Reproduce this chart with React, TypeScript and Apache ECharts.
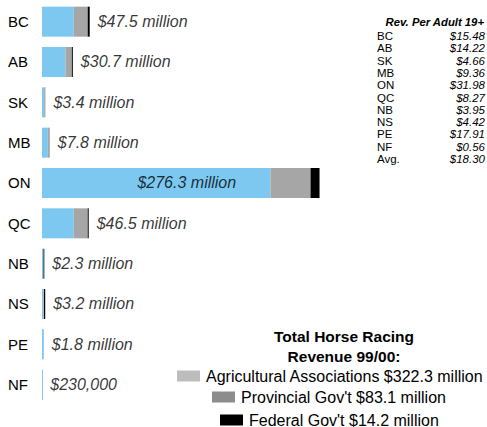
import React, { useEffect, useRef } from "react";
import * as echarts from "echarts";

const categories = ["BC", "AB", "SK", "MB", "ON", "QC", "NB", "NS", "PE", "NF"];
const agricultural = [31.6, 23.3, 2.1, 5.8, 227.4, 31.6, 1.5, 1.3, 1.8, 0.23];
const provincial = [13.9, 6.4, 1.3, 2.0, 39.9, 13.9, 0, 0.7, 0, 0];
const federal = [2.0, 1.0, 0, 0, 9.0, 1.0, 0.8, 1.2, 0, 0];
const totals = [47.5, 30.7, 3.4, 7.8, 276.3, 46.5, 2.3, 3.2, 1.8, 0.23];
const totalLabels = [
  "$47.5 million",
  "$30.7 million",
  "$3.4 million",
  "$7.8 million",
  "$276.3 million",
  "$46.5 million",
  "$2.3 million",
  "$3.2 million",
  "$1.8 million",
  "$230,000",
];
const insideLabelIndex = 4;

const perAdultTitle = "Rev. Per Adult 19+";
const perAdultNames = ["BC", "AB", "SK", "MB", "ON", "QC", "NB", "NS", "PE", "NF", "Avg."];
const perAdultValues = ["$15.48", "$14.22", "$4.66", "$9.36", "$31.98", "$8.27", "$3.95", "$4.42", "$17.91", "$0.56", "$18.30"];

const legendTitle = ["Total Horse Racing", "Revenue 99/00:"];
const legendItems = [
  "Agricultural Associations $322.3 million",
  "Provincial Gov't $83.1 million",
  "Federal Gov't $14.2 million",
];

const FONT = "'Liberation Sans', Arial, sans-serif";

export default function App() {
  const ref = useRef<HTMLDivElement>(null);
  useEffect(() => {
    if (!ref.current) return;
    const chart = echarts.init(ref.current, null, { renderer: "svg" });

    const graphics: any[] = [];
    graphics.push({
      type: "text",
      x: 484,
      y: 22,
      style: {
        text: perAdultTitle,
        fontSize: 11.3,
        lineHeight: 12,
        fontStyle: "italic",
        fontWeight: "bold",
        fontFamily: FONT,
        fill: "#000",
        align: "right",
        verticalAlign: "middle",
      },
    });
    perAdultNames.forEach((n, i) => {
      const y = 36 + i * 12.3;
      graphics.push({
        type: "text",
        x: 377,
        y,
        style: {
          text: n,
          fontSize: 11.5,
          lineHeight: 12,
          fontFamily: FONT,
          fill: "#000",
          verticalAlign: "middle",
          align: "left",
        },
      });
      graphics.push({
        type: "text",
        x: 485,
        y,
        style: {
          text: perAdultValues[i],
          fontSize: 11.5,
          lineHeight: 12,
          fontStyle: "italic",
          fontFamily: FONT,
          fill: "#000",
          verticalAlign: "middle",
          align: "right",
        },
      });
    });
    legendTitle.forEach((t, i) => {
      graphics.push({
        type: "text",
        x: 344,
        y: 336 + i * 20.5,
        style: {
          text: t,
          fontSize: 15.5,
          fontWeight: "bold",
          fontFamily: FONT,
          fill: "#000",
          align: "center",
          verticalAlign: "middle",
        },
      });
    });
    const swatchColors = ["#bdbdbd", "#8c8c8c", "#000000"];
    const swatchX = [177, 212, 220];
    const rowY = [376, 397, 420];
    legendItems.forEach((t, i) => {
      graphics.push({
        type: "rect",
        shape: { x: swatchX[i], y: rowY[i] - 5.5, width: 23, height: 11 },
        style: { fill: swatchColors[i] },
      });
      graphics.push({
        type: "text",
        x: swatchX[i] + 29,
        y: rowY[i],
        style: {
          text: t,
          fontSize: 16,
          fontFamily: FONT,
          fill: "#000",
          align: "left",
          verticalAlign: "middle",
        },
      });
    });

    const labelData = totals.map((t, i) =>
      i === insideLabelIndex
        ? { value: [t / 2, i], label: { position: "inside", offset: [6, 0] } }
        : { value: [t, i] }
    );

    chart.setOption({
      animation: false,
      textStyle: { fontFamily: FONT },
      grid: { left: 42, right: 0, top: 1.5, bottom: 22.2, containLabel: false },
      xAxis: {
        type: "value",
        min: 0,
        max: 443,
        show: false,
      },
      yAxis: {
        type: "category",
        data: categories,
        inverse: true,
        axisLine: { show: false },
        axisTick: { show: false },
        splitLine: { show: false },
        axisLabel: {
          fontSize: 15,
          color: "#000",
          fontFamily: FONT,
          align: "left",
          margin: 34,
        },
      },
      series: [
        {
          name: "Agricultural Associations",
          type: "bar",
          stack: "rev",
          barWidth: 30,
          barMinHeight: 1,
          data: agricultural,
          itemStyle: { color: "#7cc8f1" },
        },
        {
          name: "Provincial Gov't",
          type: "bar",
          stack: "rev",
          barWidth: 30,
          data: provincial,
          itemStyle: { color: "#a6a6a6" },
        },
        {
          name: "Federal Gov't",
          type: "bar",
          stack: "rev",
          barWidth: 30,
          data: federal,
          itemStyle: { color: "#000000" },
        },
        {
          name: "Total",
          type: "scatter",
          symbolSize: 0,
          data: labelData,
          label: {
            show: true,
            position: "right",
            distance: 8,
            color: "#000",
            fontSize: 16,
            fontStyle: "italic",
            fontFamily: FONT,
            formatter: (p: any) => totalLabels[p.dataIndex],
          },
          z: 5,
        },
      ],
      graphic: graphics,
    });
    return () => chart.dispose();
  }, []);

  return (
    <div
      ref={ref}
      style={{ position: "fixed", left: 0, top: 0, width: 487, height: 427, background: "#fff" }}
    />
  );
}
